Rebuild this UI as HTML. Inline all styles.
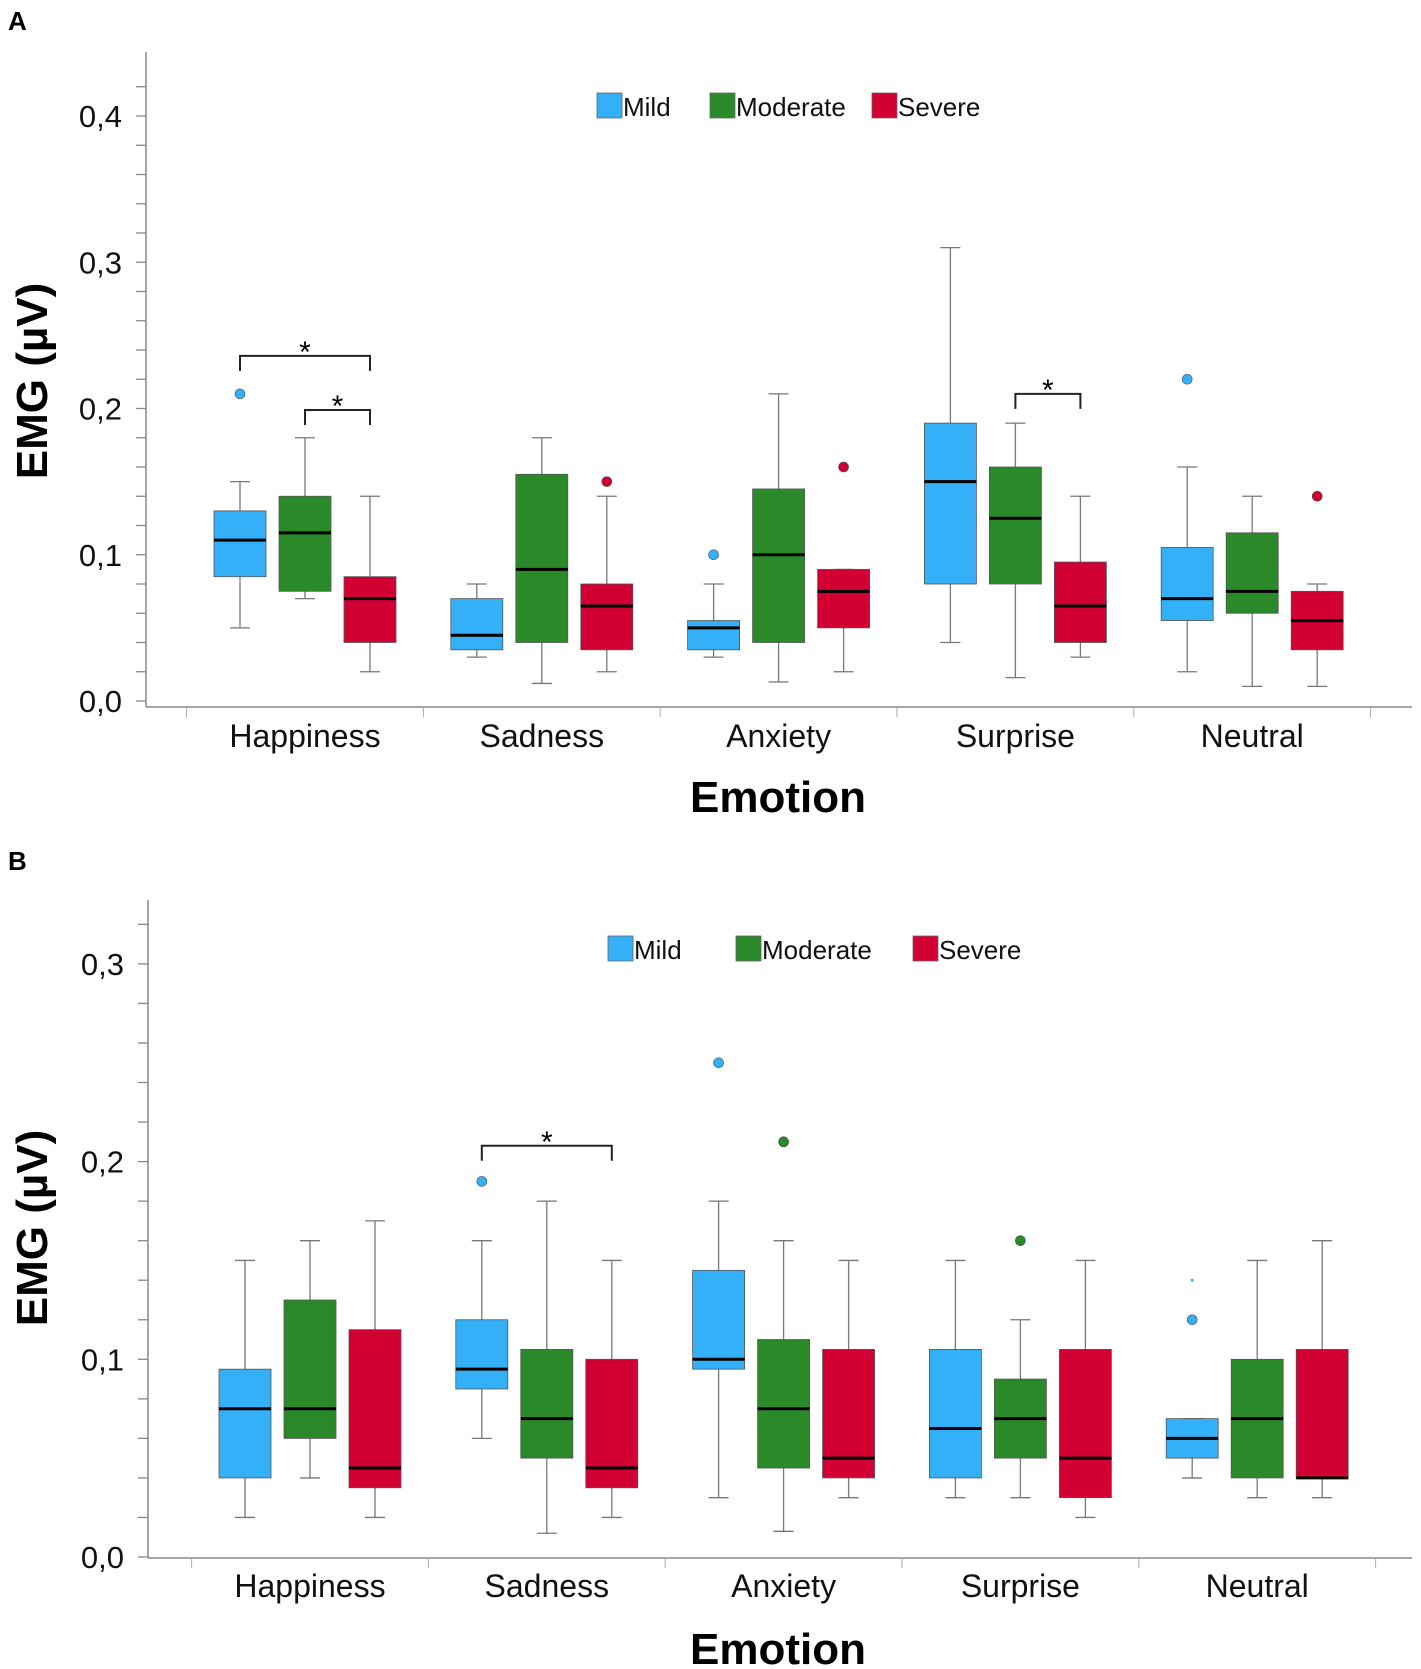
<!DOCTYPE html>
<html><head><meta charset="utf-8">
<style>
html,body{margin:0;padding:0;background:#fff;}
svg{display:block;font-family:"Liberation Sans",Arial,sans-serif;}
</style></head>
<body>
<svg id="fig" width="1421" height="1669" viewBox="0 0 1421 1669" xmlns="http://www.w3.org/2000/svg">
<text x="8" y="30" font-size="26" font-weight="bold">A</text>
<text x="8" y="870" font-size="26" font-weight="bold">B</text>
</svg>
<script>
const categories = ["Happiness","Sadness","Anxiety","Surprise","Neutral"];
const groups = ["Mild","Moderate","Severe"];
const colors = ["#33b0f8","#2a8a2a","#d20032"];
// Panel A: [low, q1, median, q3, high] per category, per group
const aMild = [[0.05,0.085,0.11,0.13,0.15],[0.03,0.035,0.045,0.07,0.08],[0.03,0.035,0.05,0.055,0.08],[0.04,0.08,0.15,0.19,0.31],[0.02,0.055,0.07,0.105,0.16]];
const aModerate = [[0.07,0.075,0.115,0.14,0.18],[0.012,0.04,0.09,0.155,0.18],[0.013,0.04,0.1,0.145,0.21],[0.016,0.08,0.125,0.16,0.19],[0.01,0.06,0.075,0.115,0.14]];
const aSevere = [[0.02,0.04,0.07,0.085,0.14],[0.02,0.035,0.065,0.08,0.14],[0.02,0.05,0.075,0.09,0.09],[0.03,0.04,0.065,0.095,0.14],[0.01,0.035,0.055,0.075,0.08]];
// outliers: [categoryIndex, groupIndex, value]
const aOutliers = [[0,0,0.21],[1,2,0.15],[2,0,0.10],[2,2,0.16],[4,0,0.22],[4,2,0.14]];
// brackets: [categoryIndex, fromGroup, toGroup, value]
const aBrackets = [[0,0,2,0.236],[0,1,2,0.199],[3,1,2,0.21]];
const aTicks = ["0,0","0,1","0,2","0,3","0,4"];

const bMild = [[0.02,0.04,0.075,0.095,0.15],[0.06,0.085,0.095,0.12,0.16],[0.03,0.095,0.1,0.145,0.18],[0.03,0.04,0.065,0.105,0.15],[0.04,0.05,0.06,0.07,0.07]];
const bModerate = [[0.04,0.06,0.075,0.13,0.16],[0.012,0.05,0.07,0.105,0.18],[0.013,0.045,0.075,0.11,0.16],[0.03,0.05,0.07,0.09,0.12],[0.03,0.04,0.07,0.1,0.15]];
const bSevere = [[0.02,0.035,0.045,0.115,0.17],[0.02,0.035,0.045,0.1,0.15],[0.03,0.04,0.05,0.105,0.15],[0.02,0.03,0.05,0.105,0.15],[0.03,0.04,0.04,0.105,0.16]];
const bOutliers = [[1,0,0.19],[2,0,0.25],[2,1,0.21],[3,1,0.16],[4,0,0.12]];
const bBrackets = [[1,0,2,0.208]];
const bTicks = ["0,0","0,1","0,2","0,3"];

const NS="http://www.w3.org/2000/svg";
const svg=document.getElementById('fig');
function mk(tag,attrs,parent){const e=document.createElementNS(NS,tag);for(const k in attrs)e.setAttribute(k,attrs[k]);(parent||svg).appendChild(e);return e;}

function panel(cfg){
  const g=mk('g',{});
  
  
  const y=v=>cfg.y0-(v/0.1)*cfg.pxPer01;
  const x=(c,gi)=>cfg.cx0+c*cfg.catW+(gi-1)*65;
  const ya=mk('line',{x1:cfg.ax,y1:cfg.top,x2:cfg.ax,y2:cfg.axisY,stroke:'#888','stroke-width':1.5},g);
  
  
  const xa=mk('line',{x1:cfg.ax,y1:cfg.axisY,x2:1412,y2:cfg.axisY,stroke:'#888','stroke-width':1.5},g);
  
  
  for(let k=0;k*0.02<=cfg.maxMinor+1e-9;k++){
    const v=k*0.02;
    mk('line',{x1:cfg.ax-10,y1:y(v),x2:cfg.ax,y2:y(v),stroke:'#888','stroke-width':1.3},g);
  }
  cfg.ticks.forEach((t,i)=>{
    const tx=mk('text',{x:cfg.ax-24,y:y(i*0.1)+11,'font-size':31,'text-anchor':'end',fill:'#111'},g);
    tx.textContent=t;
    
    
  });
  for(let i=0;i<=5;i++){
    const xx=cfg.cx0-cfg.catW/2+i*cfg.catW;
    mk('line',{x1:xx,y1:cfg.axisY,x2:xx,y2:cfg.axisY+10,stroke:'#aaa','stroke-width':1},g);
  }
  categories.forEach((c,i)=>{
    const tx=mk('text',{x:cfg.cx0+i*cfg.catW,y:cfg.catY,'font-size':32,'text-anchor':'middle',fill:'#111'},g);
    tx.textContent=c;
    
    
  });
  const xt=mk('text',{x:778,y:cfg.titleY,'font-size':44,'font-weight':'bold','text-anchor':'middle'},g);
  xt.textContent='Emotion';
  
  
  const yt=mk('text',{x:0,y:0,'font-size':44,'font-weight':'bold','text-anchor':'middle',transform:`translate(47,${cfg.ytY}) rotate(-90)`},g);
  yt.textContent='EMG (µV)';
  
  
  groups.forEach((n,i)=>{
    const lx=cfg.legX[i];
    const r=mk('rect',{x:lx,y:cfg.legY,width:25,height:25,fill:colors[i],stroke:'#666','stroke-width':0.8},g);
    
    
    const t=mk('text',{x:lx+26,y:cfg.legY+23,'font-size':26,fill:'#111'},g);
    t.textContent=n;
    
    
  });
  cfg.series.forEach((s,gi)=>{
    s.forEach((d,c)=>{
      const cx=x(c,gi), w=52;
      const bg=mk('g',{},g);
      
      
      mk('line',{x1:cx,y1:y(d[0]),x2:cx,y2:y(d[1]),stroke:'#777','stroke-width':1.3},bg);
      mk('line',{x1:cx,y1:y(d[3]),x2:cx,y2:y(d[4]),stroke:'#777','stroke-width':1.3},bg);
      mk('line',{x1:cx-10,y1:y(d[0]),x2:cx+10,y2:y(d[0]),stroke:'#777','stroke-width':1.3},bg);
      mk('line',{x1:cx-10,y1:y(d[4]),x2:cx+10,y2:y(d[4]),stroke:'#777','stroke-width':1.3},bg);
      mk('rect',{x:cx-w/2,y:y(d[3]),width:w,height:Math.max(1,y(d[1])-y(d[3])),fill:colors[gi],stroke:'#555','stroke-width':0.8},bg);
      mk('line',{x1:cx-w/2,y1:y(d[2]),x2:cx+w/2,y2:y(d[2]),stroke:'#000','stroke-width':3},bg);
    });
  });
  cfg.outliers.forEach(o=>{
    const c=mk('circle',{cx:x(o[0],o[1]),cy:y(o[2]),r:5,fill:colors[o[1]],stroke:'#444','stroke-width':0.6},g);
    
    
  });
  cfg.brackets.forEach(b=>{
    const x1=x(b[0],b[1]),x2=x(b[0],b[2]),yy=y(b[3]);
    const p=mk('path',{d:`M${x1},${yy+15}V${yy}H${x2}V${yy+15}`,fill:'none',stroke:'#222','stroke-width':2},g);
    
    
    const t=mk('text',{x:(x1+x2)/2,y:yy+6,'font-size':30,'text-anchor':'middle'},g);
    t.textContent='*';
    
    
  });
  return y;
}

panel({name:'panel-a',y0:701,pxPer01:146.25,ax:146,top:52,axisY:707,maxMinor:0.42,cx0:305,catW:236.8,
  catY:747,titleY:812,ytY:381,legX:[597,710,872],legY:93,ticks:aTicks,
  series:[aMild,aModerate,aSevere],outliers:aOutliers,brackets:aBrackets});
const yB=panel({name:'panel-b',y0:1557,pxPer01:197.7,ax:148,top:900,axisY:1558,maxMinor:0.32,cx0:310,catW:236.8,
  catY:1597,titleY:1664,ytY:1228,legX:[608,736,913],legY:936,ticks:bTicks,
  series:[bMild,bModerate,bSevere],outliers:bOutliers,brackets:bBrackets});
const tiny=mk('circle',{cx:310+4*236.8-65,cy:yB(0.14),r:1.5,fill:'#33b0f8'});


</script>
</body></html>
